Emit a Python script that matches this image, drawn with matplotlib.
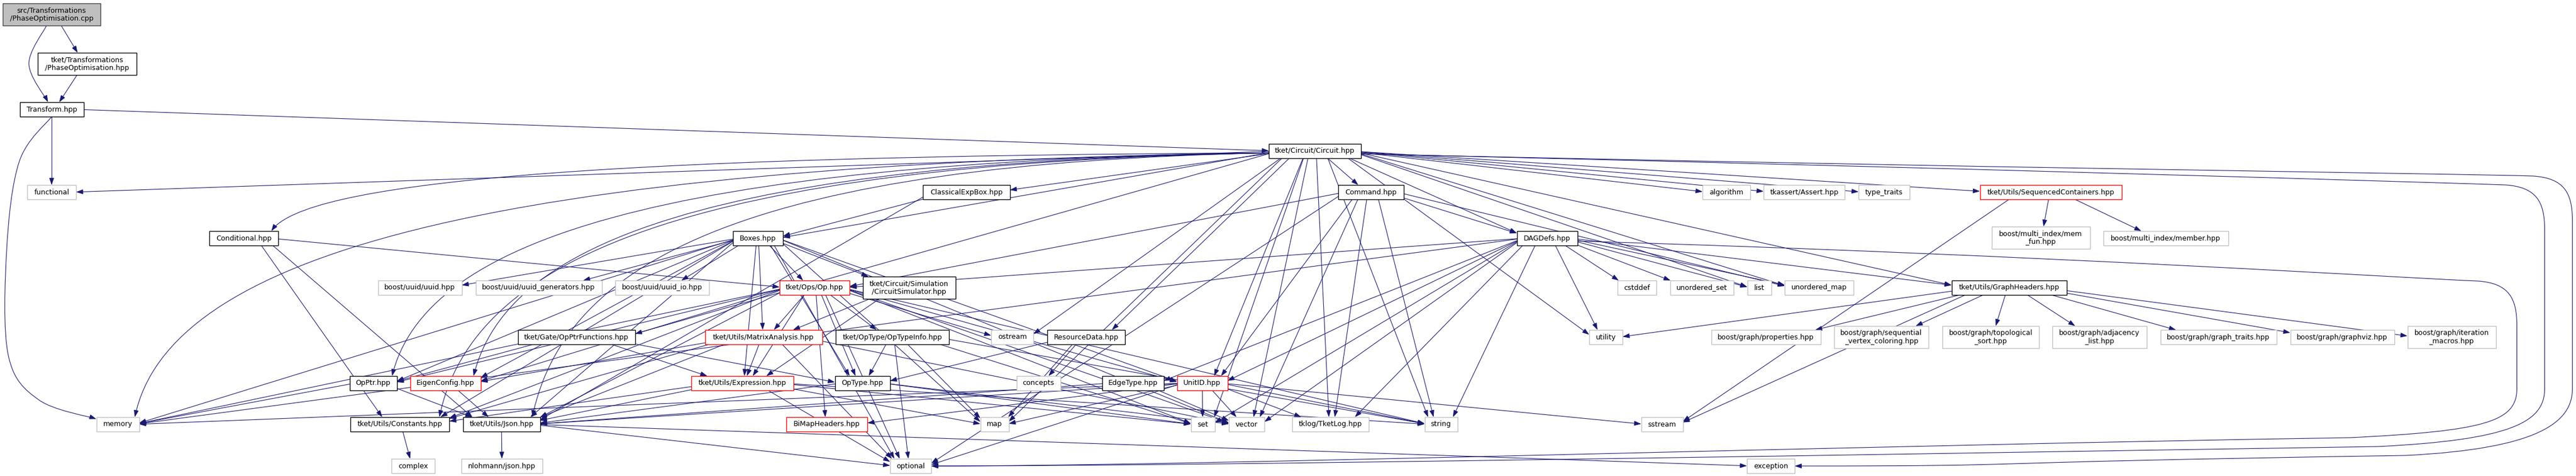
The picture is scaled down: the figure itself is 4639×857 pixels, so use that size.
import matplotlib
matplotlib.use("Agg")
import matplotlib.pyplot as plt
from matplotlib.patches import Rectangle, FancyArrowPatch
from matplotlib.path import Path

plt.rcParams['font.family'] = ['DejaVu Sans']

# node labels
labels = {
    'ROOT': 'src/Transformations\n/PhaseOptimisation.cpp',
    'PO': 'tket/Transformations\n/PhaseOptimisation.hpp',
    'TR': 'Transform.hpp',
    'CI': 'tket/Circuit/Circuit.hpp',
    'FUN': 'functional',
    'CEB': 'ClassicalExpBox.hpp',
    'CMD': 'Command.hpp',
    'ALG': 'algorithm',
    'ASS': 'tkassert/Assert.hpp',
    'TT': 'type_traits',
    'SEQ': 'tket/Utils/SequencedContainers.hpp',
    'COND': 'Conditional.hpp',
    'BOX': 'Boxes.hpp',
    'DAG': 'DAGDefs.hpp',
    'MEMFUN': 'boost/multi_index/mem\n_fun.hpp',
    'MEMBER': 'boost/multi_index/member.hpp',
    'UUID': 'boost/uuid/uuid.hpp',
    'UUIDG': 'boost/uuid/uuid_generators.hpp',
    'UUIDIO': 'boost/uuid/uuid_io.hpp',
    'OP': 'tket/Ops/Op.hpp',
    'SIM': 'tket/Circuit/Simulation\n/CircuitSimulator.hpp',
    'CSTDDEF': 'cstddef',
    'USET': 'unordered_set',
    'LIST': 'list',
    'UMAP': 'unordered_map',
    'GH': 'tket/Utils/GraphHeaders.hpp',
    'OPF': 'tket/Gate/OpPtrFunctions.hpp',
    'MA': 'tket/Utils/MatrixAnalysis.hpp',
    'OTI': 'tket/OpType/OpTypeInfo.hpp',
    'OSTREAM': 'ostream',
    'RD': 'ResourceData.hpp',
    'UTIL': 'utility',
    'BGP': 'boost/graph/properties.hpp',
    'BGS': 'boost/graph/sequential\n_vertex_coloring.hpp',
    'BGT': 'boost/graph/topological\n_sort.hpp',
    'BGA': 'boost/graph/adjacency\n_list.hpp',
    'BGGT': 'boost/graph/graph_traits.hpp',
    'BGV': 'boost/graph/graphviz.hpp',
    'BGI': 'boost/graph/iteration\n_macros.hpp',
    'OPPTR': 'OpPtr.hpp',
    'EIG': 'EigenConfig.hpp',
    'EXPR': 'tket/Utils/Expression.hpp',
    'OPTYPE': 'OpType.hpp',
    'CONC': 'concepts',
    'EDGE': 'EdgeType.hpp',
    'UNIT': 'UnitID.hpp',
    'MEM': 'memory',
    'CONST': 'tket/Utils/Constants.hpp',
    'JSON': 'tket/Utils/Json.hpp',
    'BIMAP': 'BiMapHeaders.hpp',
    'MAP': 'map',
    'SET': 'set',
    'VEC': 'vector',
    'LOG': 'tklog/TketLog.hpp',
    'STR': 'string',
    'SSTR': 'sstream',
    'CPLX': 'complex',
    'NLO': 'nlohmann/json.hpp',
    'OPT': 'optional',
    'EXC': 'exception',
}

root_nodes = ['ROOT']
doc_nodes = ['PO', 'TR', 'CI', 'CEB', 'CMD', 'COND', 'BOX', 'DAG', 'SIM', 'OPF',
             'OTI', 'RD', 'OPPTR', 'OPTYPE', 'EDGE', 'CONST', 'JSON', 'GH']
red_nodes = ['OP', 'MA', 'EXPR', 'EIG', 'UNIT', 'BIMAP', 'SEQ']

# include edges (source -> target)
edges = [
    ('ROOT', 'PO'), ('ROOT', 'TR'), ('PO', 'TR'),
    ('TR', 'CI'), ('TR', 'FUN'), ('TR', 'MEM'),
    ('CI', 'FUN'), ('CI', 'MEM'), ('CI', 'CEB'), ('CI', 'CMD'), ('CI', 'ALG'),
    ('CI', 'ASS'), ('CI', 'TT'), ('CI', 'SEQ'), ('CI', 'COND'), ('CI', 'BOX'),
    ('CI', 'DAG'), ('CI', 'OPF'), ('CI', 'RD'), ('CI', 'OSTREAM'), ('CI', 'MAP'),
    ('CI', 'SET'), ('CI', 'VEC'), ('CI', 'STR'), ('CI', 'LOG'), ('CI', 'LIST'),
    ('CI', 'UMAP'), ('CI', 'GH'), ('CI', 'CONST'), ('CI', 'JSON'), ('CI', 'UNIT'),
    ('CI', 'UTIL'), ('CI', 'OPPTR'), ('CI', 'EIG'),
    ('CEB', 'BOX'), ('CEB', 'JSON'),
    ('CMD', 'DAG'), ('CMD', 'OP'), ('CMD', 'UNIT'), ('CMD', 'STR'), ('CMD', 'OPT'),
    ('CMD', 'VEC'), ('CMD', 'UMAP'), ('CMD', 'LOG'),
    ('COND', 'OP'), ('COND', 'JSON'), ('COND', 'CONST'),
    ('BOX', 'UUID'), ('BOX', 'UUIDG'), ('BOX', 'UUIDIO'), ('BOX', 'OP'), ('BOX', 'SIM'),
    ('BOX', 'MEM'), ('BOX', 'OPPTR'), ('BOX', 'EIG'), ('BOX', 'CONST'), ('BOX', 'JSON'),
    ('BOX', 'EXPR'), ('BOX', 'MA'), ('BOX', 'UNIT'), ('BOX', 'MAP'), ('BOX', 'VEC'),
    ('BOX', 'OPT'), ('BOX', 'OPTYPE'),
    ('OP', 'OPPTR'), ('OP', 'EIG'), ('OP', 'CONST'), ('OP', 'JSON'), ('OP', 'EXPR'),
    ('OP', 'MA'), ('OP', 'OTI'), ('OP', 'OPTYPE'), ('OP', 'UNIT'), ('OP', 'MEM'),
    ('OP', 'OSTREAM'), ('OP', 'SET'), ('OP', 'STR'), ('OP', 'VEC'), ('OP', 'OPT'),
    ('OP', 'BIMAP'),
    ('SIM', 'MA'), ('SIM', 'EXPR'),
    ('DAG', 'CSTDDEF'), ('DAG', 'USET'), ('DAG', 'LIST'), ('DAG', 'UTIL'), ('DAG', 'STR'),
    ('DAG', 'LOG'), ('DAG', 'OP'), ('DAG', 'UNIT'), ('DAG', 'EDGE'), ('DAG', 'GH'),
    ('DAG', 'UMAP'), ('DAG', 'VEC'), ('DAG', 'SET'), ('DAG', 'MEM'),
    ('GH', 'BGP'), ('GH', 'BGS'), ('GH', 'BGT'), ('GH', 'BGA'), ('GH', 'BGGT'),
    ('GH', 'BGV'), ('GH', 'BGI'), ('GH', 'UTIL'), ('GH', 'SSTR'),
    ('SEQ', 'MEMFUN'), ('SEQ', 'MEMBER'), ('SEQ', 'SSTR'),
    ('OPF', 'OPPTR'), ('OPF', 'EXPR'), ('OPF', 'OPTYPE'),
    ('MA', 'EIG'), ('MA', 'EXPR'), ('MA', 'CONST'), ('MA', 'VEC'), ('MA', 'OPT'),
    ('MA', 'JSON'),
    ('OTI', 'OPTYPE'), ('OTI', 'MAP'), ('OTI', 'OPT'), ('OTI', 'SET'), ('OTI', 'STR'),
    ('RD', 'MAP'), ('RD', 'CONC'), ('RD', 'OPTYPE'),
    ('EXPR', 'JSON'), ('EXPR', 'OPT'), ('EXPR', 'SET'), ('EXPR', 'STR'), ('EXPR', 'MAP'),
    ('EXPR', 'CONST'),
    ('OPTYPE', 'JSON'), ('OPTYPE', 'SET'), ('OPTYPE', 'VEC'),
    ('EIG', 'JSON'),
    ('OPPTR', 'MEM'), ('OPPTR', 'JSON'),
    ('EDGE', 'JSON'), ('EDGE', 'VEC'),
    ('UNIT', 'SET'), ('UNIT', 'VEC'), ('UNIT', 'STR'), ('UNIT', 'OPT'), ('UNIT', 'MAP'),
    ('UNIT', 'BIMAP'), ('UNIT', 'JSON'), ('UNIT', 'LOG'), ('UNIT', 'SSTR'), ('UNIT', 'MEM'),
    ('CONST', 'CPLX'),
    ('JSON', 'NLO'), ('JSON', 'OPT'), ('JSON', 'EXC'),
]
# edges that graphviz routed around the right-hand side
loop_edges = [('CI', 'EXC'), ('CI', 'OPT'), ('DAG', 'OPT')]

# layout: centre x, centre y, width, height (pixels)
layout = {
    'ROOT': (93, 26, 176, 40), 'PO': (157, 115, 178, 40), 'TR': (93, 197, 115, 26),
    'CI': (2368, 272, 166, 26),
    'FUN': (93, 346, 88, 26), 'CEB': (1740, 346, 157, 26), 'CMD': (2469, 346, 118, 26),
    'ALG': (3109, 346, 86, 26), 'ASS': (3249, 346, 146, 26), 'TT': (3393, 346, 92, 26),
    'SEQ': (3693, 346, 255, 26),
    'COND': (439, 429, 124, 26), 'BOX': (1365, 429, 90, 26), 'DAG': (2786, 429, 109, 26),
    'MEMFUN': (3675, 428, 177, 40), 'MEMBER': (3900, 429, 225, 26),
    'UUID': (756, 518, 151, 26), 'UUIDG': (970, 518, 227, 26), 'UUIDIO': (1192, 518, 169, 26),
    'OP': (1467, 518, 126, 26), 'SIM': (1637, 518, 167, 40), 'CSTDDEF': (2948, 518, 70, 26),
    'USET': (3065, 518, 114, 26), 'LIST': (3168, 518, 43, 26), 'UMAP': (3276, 518, 124, 26),
    'GH': (3618, 518, 207, 26),
    'OPF': (1038, 607, 211, 26), 'MA': (1375, 607, 211, 26), 'OTI': (1607, 607, 204, 26),
    'OSTREAM': (1823, 607, 76, 26), 'RD': (1956, 607, 140, 26), 'UTIL': (2892, 607, 60, 26),
    'BGP': (3180, 607, 197, 26), 'BGS': (3388, 607, 170, 40), 'BGT': (3585, 607, 174, 40),
    'BGA': (3781, 607, 170, 40), 'BGGT': (3995, 607, 209, 26), 'BGV': (4218, 607, 187, 26),
    'BGI': (4415, 607, 159, 40),
    'OPPTR': (672, 690, 85, 26), 'EIG': (802, 690, 127, 26), 'EXPR': (1337, 690, 184, 26),
    'OPTYPE': (1553, 690, 99, 26), 'CONC': (1870, 690, 79, 26), 'EDGE': (2040, 690, 111, 26),
    'UNIT': (2165, 690, 91, 26),
    'MEM': (212, 764, 77, 26), 'CONST': (720, 764, 178, 26), 'JSON': (903, 764, 139, 26),
    'BIMAP': (1489, 764, 146, 26), 'MAP': (1791, 764, 51, 26), 'SET': (2166, 764, 43, 26),
    'VEC': (2245, 764, 64, 26), 'LOG': (2396, 764, 138, 26), 'STR': (2595, 764, 59, 26),
    'SSTR': (2993, 764, 75, 26),
    'CPLX': (744, 839, 78, 26), 'NLO': (904, 839, 146, 26), 'OPT': (1640, 839, 74, 26),
    'EXC': (3189, 839, 86, 26),
}

# a few hand-bent routes
via = {
    ('ROOT', 'TR'): [(52, 115)],
    ('TR', 'MEM'): [(35, 290), (12, 450), (15, 640), (70, 720)],
}
# Circuit.hpp edges to the far left run flat before dropping down
flat_sources = ['CI']
flat_limit_x = 1000

EDGE_COL = '#191970'

fig = plt.figure(figsize=(46.39, 8.57), dpi=100)
ax = fig.add_axes([0, 0, 1, 1])
ax.set_xlim(0, 4639)
ax.set_ylim(857, 0)
ax.axis('off')


def anchor(node, other):
    # spread the ends of edges along the box side, like graphviz does
    cx, cy, w, h = layout[node]
    ox = layout[other][0]
    off = max(-0.4 * w, min(0.4 * w, (ox - cx) * 0.08))
    return cx + off, cy


def clip_from(node, px, py, dx, dy):
    cx, cy, w, h = layout[node]
    ts = []
    if dx > 0:
        ts.append((cx + w / 2 - px) / dx)
    elif dx < 0:
        ts.append((cx - w / 2 - px) / dx)
    if dy > 0:
        ts.append((cy + h / 2 - py) / dy)
    elif dy < 0:
        ts.append((cy - h / 2 - py) / dy)
    t = min(ts)
    return px + dx * t, py + dy * t


def smooth(pts):
    # catmull-rom through the points, as cubic bezier
    verts = [pts[0]]
    codes = [Path.MOVETO]
    p = [pts[0]] + pts + [pts[-1]]
    for i in range(1, len(p) - 2):
        p0, p1, p2, p3 = p[i - 1], p[i], p[i + 1], p[i + 2]
        c1 = (p1[0] + (p2[0] - p0[0]) / 6, p1[1] + (p2[1] - p0[1]) / 6)
        c2 = (p2[0] - (p3[0] - p1[0]) / 6, p2[1] - (p3[1] - p1[1]) / 6)
        verts += [c1, c2, p2]
        codes += [Path.CURVE4] * 3
    return Path(verts, codes)


def arrow_path(path):
    a = FancyArrowPatch(path=path, arrowstyle='-|>,head_length=0.75,head_width=0.26',
                        mutation_scale=10, color=EDGE_COL, lw=0.8, zorder=1)
    ax.add_patch(a)


for s, t in edges:
    sa = anchor(s, t)
    ta = anchor(t, s)
    dx = ta[0] - sa[0]
    dy = ta[1] - sa[1]
    pts = via.get((s, t), [])
    if pts:
        a = clip_from(s, sa[0], sa[1], pts[0][0] - sa[0], pts[0][1] - sa[1])
        b = clip_from(t, ta[0], ta[1], pts[-1][0] - ta[0], pts[-1][1] - ta[1])
        arrow_path(smooth([a] + pts + [b]))
    elif s in flat_sources and layout[t][0] < flat_limit_x and dy > 150:
        a = clip_from(s, sa[0], sa[1], -1, 0.2)
        b = (ta[0], ta[1] - layout[t][3] / 2)
        c1 = (a[0] + (b[0] - a[0]) * 0.7, a[1] + (b[1] - a[1]) * 0.04)
        c2 = (b[0] + 60, b[1] - (b[1] - a[1]) * 0.6)
        arrow_path(Path([a, c1, c2, b], [Path.MOVETO] + [Path.CURVE4] * 3))
    else:
        a = clip_from(s, sa[0], sa[1], dx, dy)
        b = clip_from(t, ta[0], ta[1], -dx, -dy)
        arrow_path(Path([a, b], [Path.MOVETO, Path.LINETO]))

# long edges that wrap round the right of the graph
right_edge = max(cx + w / 2 for cx, cy, w, h in layout.values())
for i, (s, t) in enumerate(loop_edges):
    sx, sy, sw, sh = layout[s]
    tx, ty, tw, th = layout[t]
    xr = right_edge + 138 - 50 * i
    x0, y0 = sx + sw / 2, sy + 5
    x1, y1 = tx + tw / 2, ty
    ytop = y0 + 40 + 16 * i
    ybend = 700
    ybot = 820 - 16 * i
    verts = [(x0, y0),
             (x0 + 0.5 * (xr - x0), y0 + 25), (xr - 180, ytop - 4), (xr - 70, ytop),
             (xr - 15, ytop + 4), (xr, ytop + 30), (xr, ytop + 80),
             (xr, ybend),
             (xr, ybend + 60), (xr - 60, ybot - 12), (xr - 300, ybot),
             (xr - 1200, ybot + 14), (x1 + 500, y1), (x1, y1)]
    codes = ([Path.MOVETO] + [Path.CURVE4] * 6 + [Path.LINETO] + [Path.CURVE4] * 6)
    arrow_path(Path(verts, codes))

for key, text in labels.items():
    cx, cy, w, h = layout[key]
    if key in root_nodes:
        fc, ec = '#bfbfbf', '#404040'
    elif key in doc_nodes:
        fc, ec = 'white', '#000000'
    elif key in red_nodes:
        fc, ec = 'white', '#ff0000'
    else:
        fc, ec = 'white', '#bfbfbf'
    ax.add_patch(Rectangle((cx - w / 2, cy - h / 2), w, h, facecolor=fc,
                           edgecolor=ec, lw=1.0, zorder=2))
    ax.text(cx, cy, text, ha='center', va='center', fontsize=9.1,
            linespacing=1.15, color='black', zorder=3)

fig.savefig('out.png', dpi=100, facecolor='white')
